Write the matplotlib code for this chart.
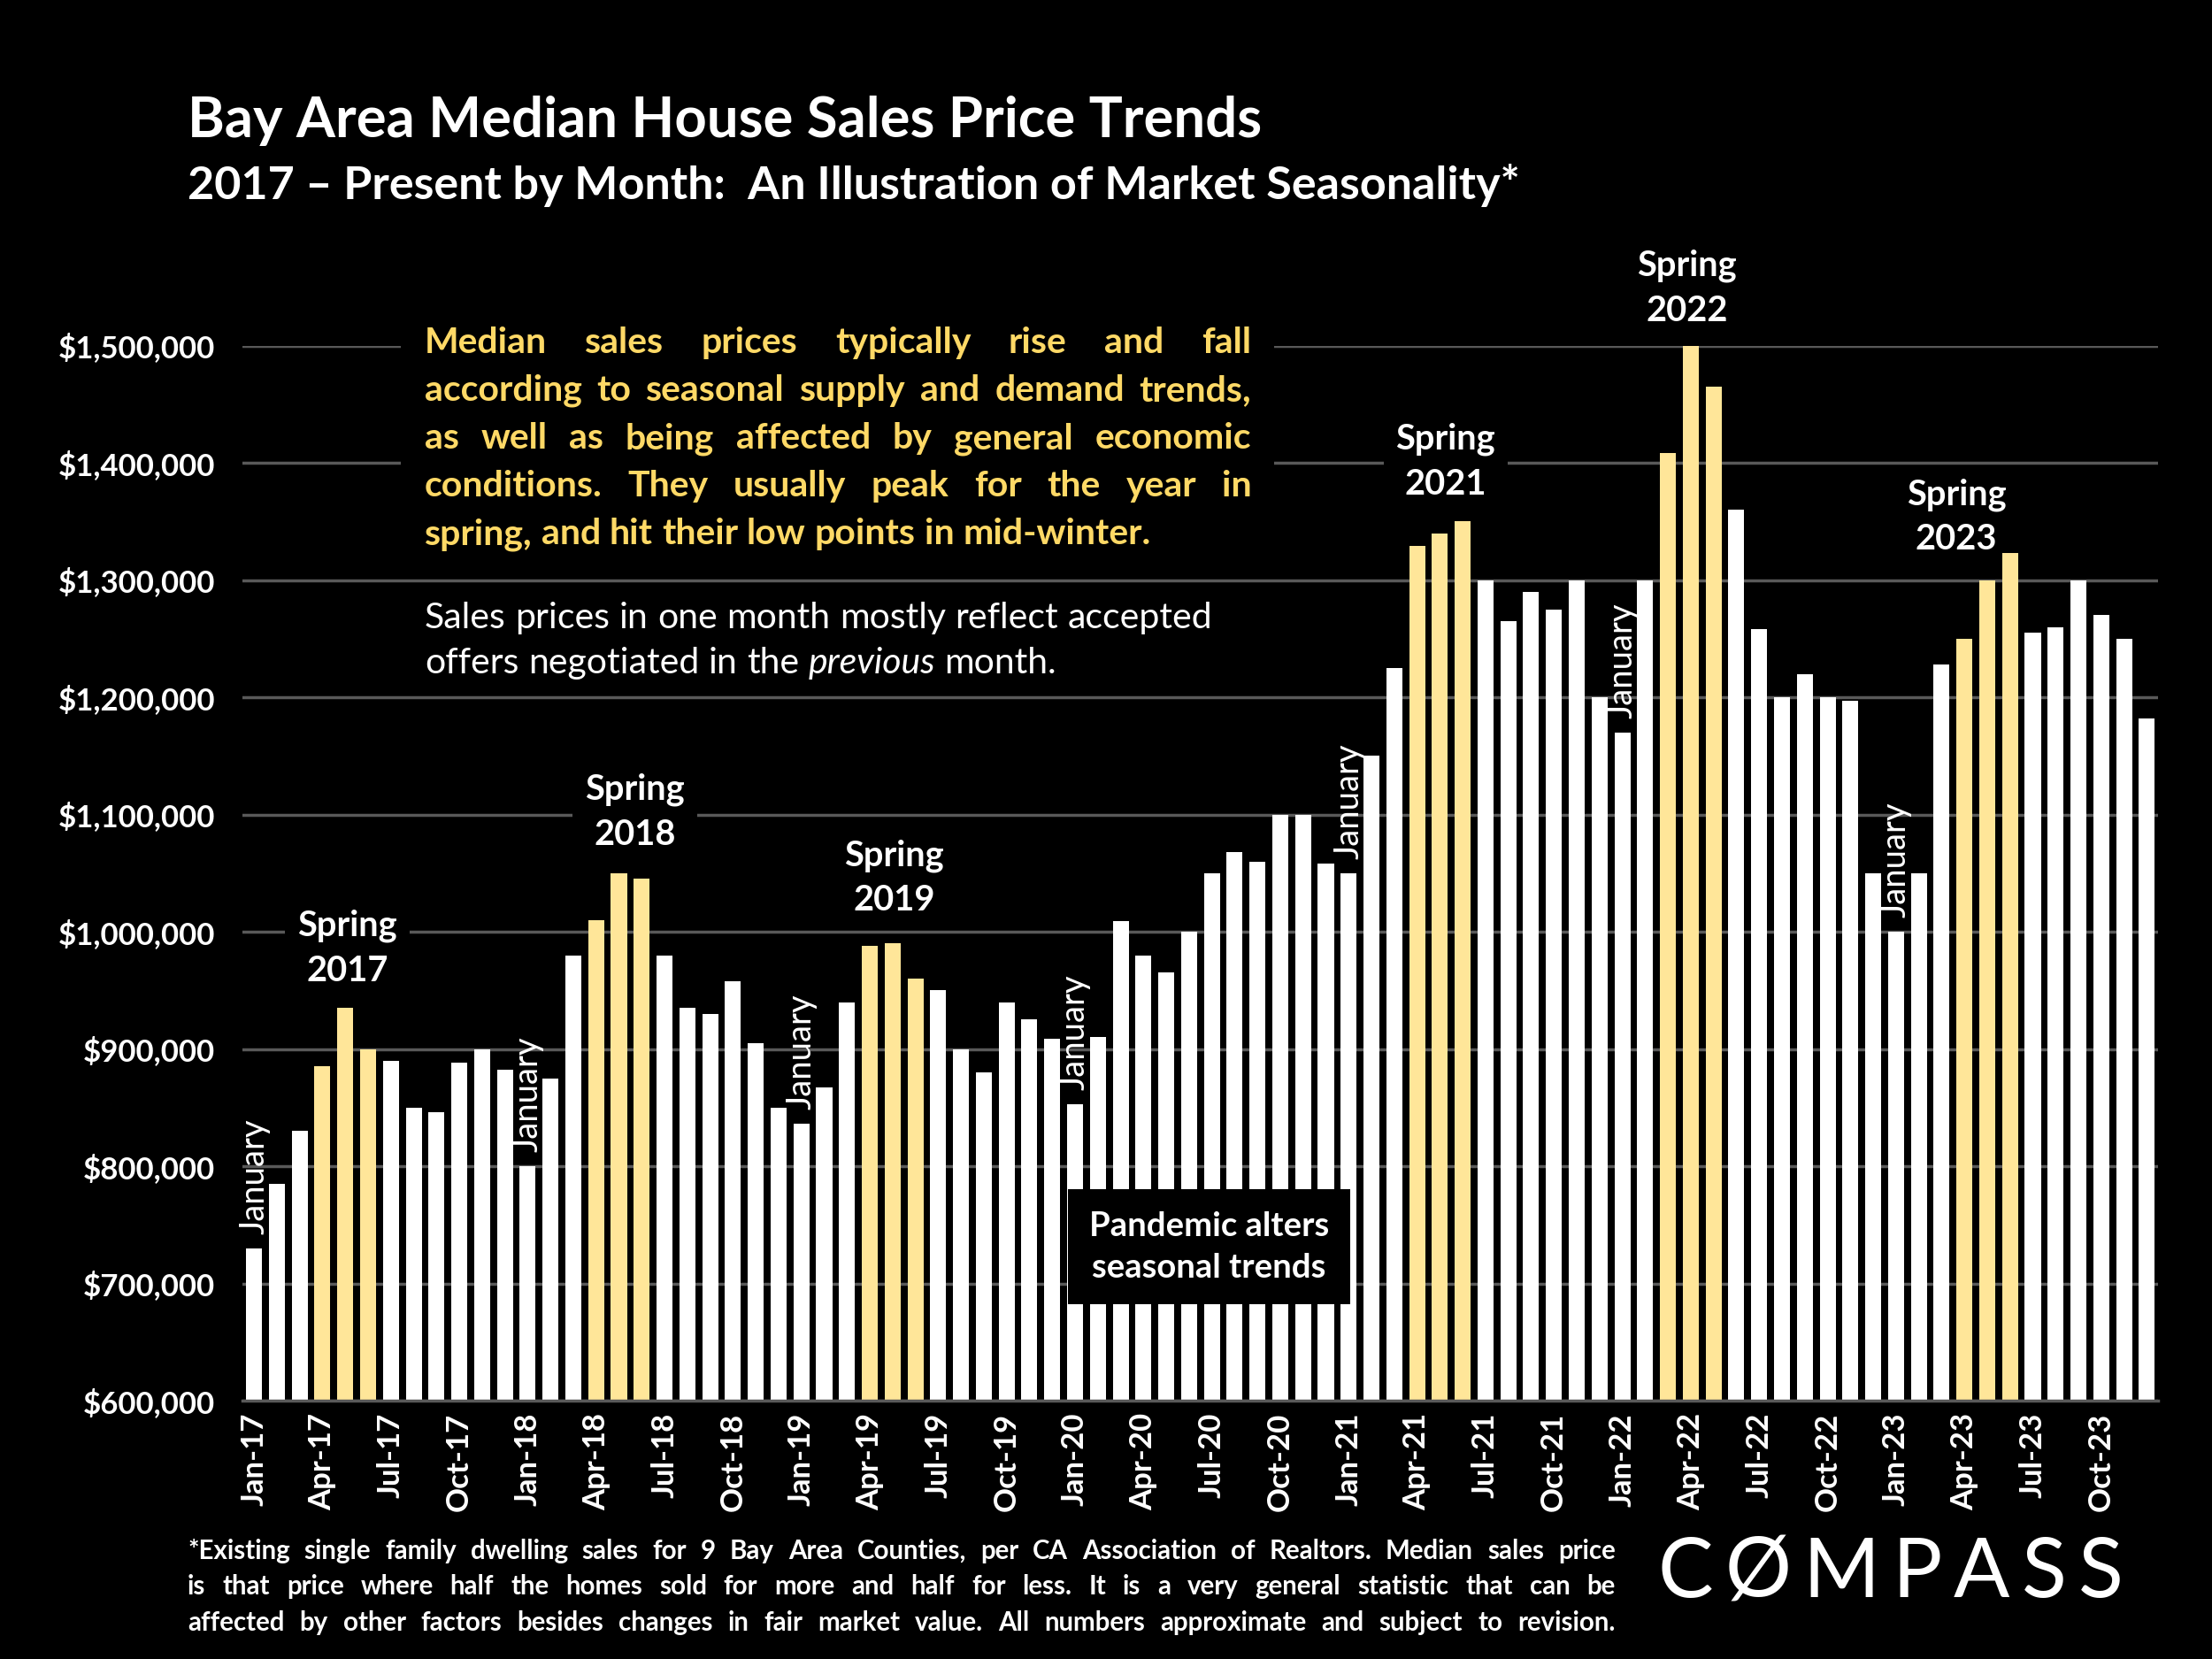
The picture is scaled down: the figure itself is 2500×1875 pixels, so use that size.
import matplotlib
matplotlib.use('Agg')
import matplotlib.pyplot as plt
from matplotlib.patches import Rectangle

# Median prijs per maand, jan 2017 - dec 2023
years = ['17', '18', '19', '20', '21', '22', '23']
month_names = ['Jan', 'Feb', 'Mar', 'Apr', 'May', 'Jun',
               'Jul', 'Aug', 'Sep', 'Oct', 'Nov', 'Dec']
months = [m + '-' + y for y in years for m in month_names]

prices = [
    730000, 785000, 830000, 885000, 935000, 900000,
    890000, 850000, 846000, 888000, 900000, 882000,
    800000, 875000, 980000, 1010000, 1050000, 1045000,
    980000, 935000, 930000, 958000, 905000, 850000,
    836000, 867000, 940000, 988000, 990000, 960000,
    950000, 900000, 880000, 940000, 925000, 909000,
    853000, 910000, 1009000, 980000, 965000, 1000000,
    1050000, 1068000, 1060000, 1100000, 1100000, 1058000,
    1050000, 1150000, 1225000, 1329000, 1340000, 1350000,
    1300000, 1265000, 1290000, 1275000, 1300000, 1200000,
    1170000, 1300000, 1408000, 1500000, 1465000, 1360000,
    1258000, 1200000, 1220000, 1200000, 1197000, 1050000,
    1000000, 1050000, 1228000, 1250000, 1300000, 1323000,
    1255000, 1260000, 1300000, 1270000, 1250000, 1182000,
]

spring_months = ['Apr-17', 'May-17', 'Jun-17', 'Apr-18', 'May-18', 'Jun-18',
                 'Apr-19', 'May-19', 'Jun-19', 'Apr-21', 'May-21', 'Jun-21',
                 'Mar-22', 'Apr-22', 'May-22', 'Apr-23', 'May-23', 'Jun-23']

tick_labels = ['Jan-17', 'Apr-17', 'Jul-17', 'Oct-17', 'Jan-18', 'Apr-18', 'Jul-18',
               'Oct-18', 'Jan-19', 'Apr-19', 'Jul-19', 'Oct-19', 'Jan-20', 'Apr-20',
               'Jul-20', 'Oct-20', 'Jan-21', 'Apr-21', 'Jul-21', 'Oct-21', 'Jan-22',
               'Apr-22', 'Jul-22', 'Oct-22', 'Jan-23', 'Apr-23', 'Jul-23', 'Oct-23']

yticks = [600000, 700000, 800000, 900000, 1000000, 1100000, 1200000, 1300000, 1400000, 1500000]

GOLD = '#FFE699'
GOLD_TXT = '#FFD966'
GRID = '#595959'

plt.rcParams['font.family'] = ['Lato', 'DejaVu Sans']

fig = plt.figure(figsize=(10, 7.5), dpi=250, facecolor='black')
ax = fig.add_axes([0.1097, 0.1557, 0.866, 0.636])
ax.set_facecolor('black')

x = list(range(len(months)))
colors = [GOLD if m in spring_months else 'white' for m in months]
ax.bar(x, prices, width=0.7, color=colors, zorder=2)

ax.set_xlim(-0.5, len(months) - 0.5)
ax.set_ylim(600000, 1500000)
ax.set_yticks(yticks)
ax.set_yticklabels(['${:,.0f}'.format(v) for v in yticks],
                   color='white', fontsize=10, fontweight='bold')
ax.set_xticks([months.index(t) for t in tick_labels])
ax.set_xticklabels(tick_labels, rotation=90, color='white',
                   fontsize=10, fontweight='bold')
ax.tick_params(length=0, pad=9)
ax.tick_params(axis='x', pad=4)
ax.grid(axis='y', color=GRID, linewidth=1.0, zorder=0)
ax.set_axisbelow(True)
for s in ['top', 'left', 'right']:
    ax.spines[s].set_visible(False)
ax.spines['bottom'].set_color(GRID)
ax.spines['bottom'].set_linewidth(1.0)

# "January" labels boven de januari-staven
for i, m in enumerate(months):
    if m.startswith('Jan'):
        ax.text(i, prices[i] + 12000, 'January', rotation=90, ha='center',
                va='bottom', color='white', fontsize=11, zorder=4)

# Spring labels (zwarte achtergrond onderbreekt de gridlijnen, niet de staven)
springs = [('2017', 4.08, 986000), ('2018', 16.7, 1102000), ('2019', 28.07, 1046000),
           ('2021', 52.25, 1401000), ('2022', 62.83, 1549000), ('2023', 74.64, 1354000)]
for yr, sx, sy in springs:
    ax.text(sx, sy, 'Spring\n' + yr, ha='center', va='center', color='white',
            fontsize=11.5, fontweight='bold', linespacing=1.45, zorder=1.5,
            bbox=dict(facecolor='black', edgecolor='none', pad=4))

# Pandemic box
ax.add_patch(Rectangle((35.7, 682000), 12.35, 98500, facecolor='black',
                       edgecolor='none', zorder=4))
ax.text(41.87, 731000, 'Pandemic alters\nseasonal trends', ha='center', va='center',
        color='white', fontsize=11, fontweight='bold', linespacing=1.45, zorder=5)

# zwart vlak achter de gele tekst
ax.add_patch(Rectangle((6.43, 1320000), 38.3, 200000, facecolor='black',
                       edgecolor='none', zorder=1, clip_on=False))

renderer = fig.canvas.get_renderer()


def text_width(s, **kw):
    t = fig.text(0, 0, s, **kw)
    w = t.get_window_extent(renderer).width / fig.bbox.width
    t.remove()
    return w


def place_line(words, x0, x1, y, justify=True, **kw):
    # words: strings, or (string, extra kwargs)
    items = [w if isinstance(w, tuple) else (w, {}) for w in words]
    widths = [text_width(w, **{**kw, **extra}) for w, extra in items]
    if justify and len(items) > 1:
        gap = (x1 - x0 - sum(widths)) / (len(items) - 1)
    else:
        gap = text_width('a a', **kw) - text_width('aa', **kw)
    xx = x0
    for (w, extra), wd in zip(items, widths):
        fig.text(xx, y, w, ha='left', va='baseline', **{**kw, **extra})
        xx += wd + gap


def fy(ypix):
    return 1 - ypix / 1176


def fx(xpix):
    return xpix / 1568


# titel
fig.text(fx(133), fy(97), 'Bay Area Median House Sales Price Trends',
         color='white', fontsize=18.3, fontweight='bold')
fig.text(fx(133), fy(141), '2017 \u2013 Present by Month:  An Illustration of Market Seasonality*',
         color='white', fontsize=15, fontweight='bold')

gold_lines = ['Median sales prices typically rise and fall',
              'according to seasonal supply and demand trends,',
              'as well as being affected by general economic',
              'conditions. They usually peak for the year in',
              'spring, and hit their low points in mid-winter.']
for k, line in enumerate(gold_lines):
    place_line(line.split(), fx(301), fx(887), fy(250 + 34 * k),
               justify=(k < len(gold_lines) - 1),
               color=GOLD_TXT, fontsize=11.8, fontweight='bold')

place_line('Sales prices in one month mostly reflect accepted'.split(),
           fx(301), fx(887), fy(445), justify=False, color='white', fontsize=11.8)
place_line(['offers', 'negotiated', 'in', 'the', ('previous', {'style': 'italic'}), 'month.'],
           fx(301), fx(887), fy(477), justify=False, color='white', fontsize=11.8)

foot_lines = ['*Existing single family dwelling sales for 9 Bay Area Counties, per CA Association of Realtors. Median sales price',
              'is that price where half the homes sold for more and half for less. It is a very general statistic that can be',
              'affected by other factors besides changes in fair market value. All numbers approximate and subject to revision.']
for k, line in enumerate(foot_lines):
    place_line(line.split(), fx(133), fx(1145), fy(1105 + 25.5 * k),
               color='white', fontsize=8.5, fontweight='bold')

# logo
place_line(list('C\u00d8MPASS'), fx(1175), fx(1505), fy(1132),
           color='white', fontsize=27, fontweight='normal')

fig.savefig('out.png', dpi=250, facecolor='black')
